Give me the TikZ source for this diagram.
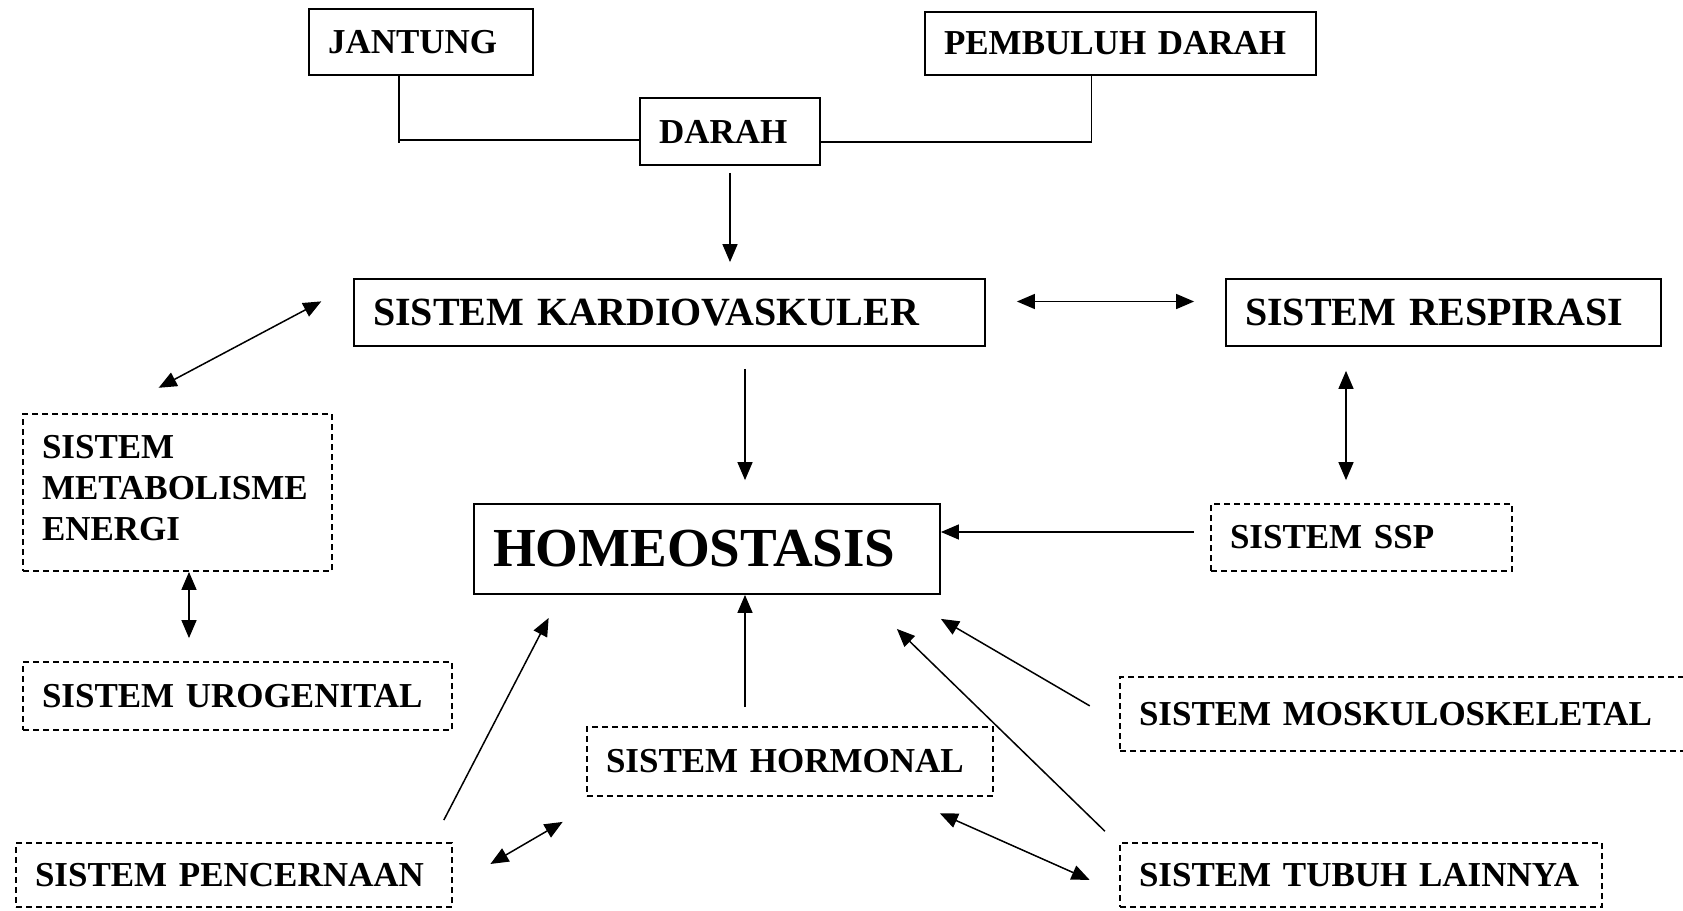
\documentclass[tikz,border=0pt]{standalone}
\usepackage{fontspec}
\setmainfont{Liberation Serif}
\usetikzlibrary{arrows.meta}
\begin{document}
\begin{tikzpicture}[x=1pt,y=-1pt,
 box/.style={draw, line width=1.8pt, inner xsep=19pt, inner ysep=0pt, align=left, font=\fontsize{35}{41}\selectfont\bfseries},
 dbox/.style={box, dash pattern=on 6pt off 4pt},
 big/.style={font=\fontsize{40}{44}\selectfont\bfseries},
 huge/.style={font=\fontsize{55}{60}\selectfont\bfseries},
 conn/.style={line width=1.5pt},
 arr/.style={conn, -{Triangle[length=18pt,width=15pt]}},
 darr/.style={conn, {Triangle[length=18pt,width=15pt]}-{Triangle[length=18pt,width=15pt]}}]
\useasboundingbox (0,0) rectangle (1683,910);
\node[box, text width=186pt, minimum height=66pt] (jant) at (421,42) {JANTUNG};
\node[box, text width=142pt, minimum height=67pt] (darah) at (730,131.5) {DARAH};
\node[box, text width=353pt, minimum height=63pt] (pemb) at (1120.5,43.5) {PEMBULUH DARAH};
\node[box, big, text width=593pt, minimum height=67pt] (kardio) at (669.5,312.5) {SISTEM KARDIOVASKULER};
\node[box, big, text width=397pt, minimum height=67pt] (resp) at (1443.5,312.5) {SISTEM RESPIRASI};
\node[dbox, text width=271pt, minimum height=157pt] (metab) at (177.5,492.5) {SISTEM\\METABOLISME\\ENERGI\\[-31pt]\mbox{}};
\node[dbox, text width=391pt, minimum height=68pt] (urog) at (237.5,696) {SISTEM UROGENITAL};
\node[box, huge, text width=428pt, minimum height=90pt] (homeo) at (707,549) {HOMEOSTASIS};
\node[dbox, text width=263pt, minimum height=67pt] (ssp) at (1361.5,537.5) {SISTEM SSP};
\node[dbox, text width=532pt, minimum height=74pt] (mosk) at (1405,714) {SISTEM MOSKULOSKELETAL};
\node[dbox, text width=368pt, minimum height=69pt] (horm) at (790,761.5) {SISTEM HORMONAL};
\node[dbox, text width=398pt, minimum height=64pt] (pencer) at (234,875) {SISTEM PENCERNAAN};
\node[dbox, text width=444pt, minimum height=64pt] (tubuh) at (1361,875) {SISTEM TUBUH LAINNYA};

\coordinate (jx) at (399,140);
\draw[conn] (jant.south -| jx) -- ([yshift=-3pt]jx);
\draw[conn] (jx) -- (jx -| darah.west);
\coordinate (px) at (1091.5,142);
\draw[conn] (darah.east |- px) -- (px) -- (px |- pemb.south);

\draw[arr, shorten <=7pt, shorten >=16pt] (darah.south) -- (darah.south |- kardio.north);
\draw[darr, shorten <=31pt, shorten >=31pt] ([yshift=11pt]kardio.east) -- ([yshift=11pt]kardio.east -| resp.west);
\draw[darr, shorten <=54pt, shorten >=36pt] ([xshift=-66.5pt]metab.north) -- ([yshift=28pt]kardio.west);
\draw[darr, shorten >=23pt] ([xshift=11.5pt]metab.south) -- ([xshift=11.5pt]metab.south |- urog.north);
\draw[arr, shorten <=22pt, shorten >=23pt] ([xshift=75.5pt]kardio.south) -- ([xshift=75.5pt]kardio.south |- homeo.north);
\draw[darr, shorten <=24pt, shorten >=23pt] ([xshift=-97.5pt]resp.south) -- ([xshift=-97.5pt]resp.south |- ssp.north);
\draw[arr, shorten <=16.5pt] ([yshift=5.5pt]ssp.west) -- ([yshift=5.5pt]ssp.west -| homeo.east);
\draw[arr, shorten <=34pt] ([yshift=-9pt]mosk.west) -- ([yshift=-24pt]homeo.south east);
\draw[arr, shorten <=15.6pt, shorten >=48.8pt] ([xshift=-3pt]tubuh.north west) -- ([xshift=-79pt]homeo.south east);
\draw[arr, shorten <=19pt] ([xshift=-45pt]horm.north) -- ([xshift=-45pt]horm.north |- homeo.south);
\draw[darr, shorten <=40.3pt, shorten >=32.3pt] ([xshift=113pt]horm.south) -- ([yshift=-18pt]tubuh.west);
\draw[arr, shorten <=24.8pt, shorten >=26pt] ([xshift=-20.5pt]pencer.north east) -- ([xshift=87.5pt]homeo.south west);
\draw[darr, shorten <=43.4pt, shorten >=49.7pt] ([yshift=-10.8pt]pencer.east) -- ([xshift=19.5pt]horm.south west);
\end{tikzpicture}
\end{document}
